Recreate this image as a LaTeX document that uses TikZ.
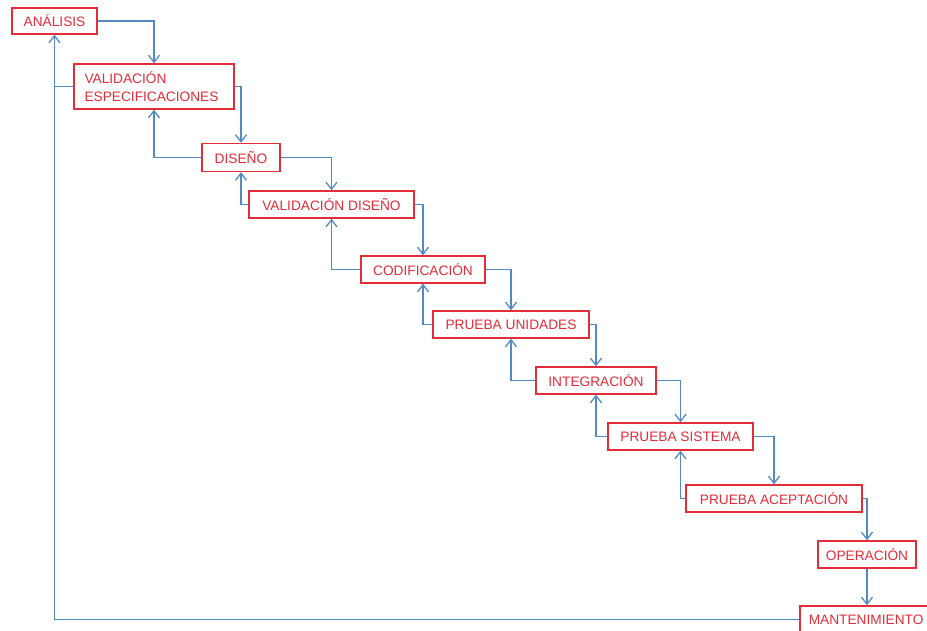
\documentclass[tikz,border=0pt]{standalone}
\usepackage{fontspec}
\setmainfont{Liberation Sans}
\usetikzlibrary{arrows.meta}
\definecolor{boxred}{RGB}{226,45,58}
\definecolor{linkblue}{RGB}{84,138,196}
\tikzset{
  box/.style={draw=boxred, text=boxred, line width=1.5pt, rectangle, inner sep=0pt,
    minimum height=27pt, font=\fontsize{13.7}{16}\selectfont},
  link/.style={draw=linkblue, line width=1.4pt},
  arr/.style={link, -{Straight Barb[length=7pt,width=11pt,line width=1.3pt]}}
}
\begin{document}
\begin{tikzpicture}[x=1pt,y=-1pt]
\useasboundingbox (0,0) rectangle (927,631);
\clip (0,0) rectangle (927,631);
\fill[white] (0,0) rectangle (927,631);
\node[box, minimum width=85pt, minimum height=26pt] (ana) at (54.5,21) {ANÁLISIS};
\node[box, minimum width=160pt, minimum height=45pt, align=left, text width=139pt, font=\fontsize{13.7}{17.5}\selectfont] (ve) at (154,86.5) {VALIDACIÓN\\ESPECIFICACIONES};
\node[box, minimum width=78pt, minimum height=28pt] (dis) at (241,157.5) {DISEÑO};
\node[box, minimum width=165pt] (vd) at (331.5,204.5) {VALIDACIÓN DISEÑO};
\node[box, minimum width=124pt] (cod) at (423,269.5) {CODIFICACIÓN};
\node[box, minimum width=156pt] (pu) at (511,324.5) {PRUEBA UNIDADES};
\node[box, minimum width=120pt] (int) at (596,380.5) {INTEGRACIÓN};
\node[box, minimum width=145pt] (ps) at (680.5,436.5) {PRUEBA SISTEMA};
\node[box, minimum width=176pt] (pa) at (774,498.5) {PRUEBA ACEPTACIÓN};
\node[box, minimum width=98pt] (op) at (867,554.5) {OPERACIÓN};
\node[box, minimum width=138pt, text width=138pt, align=left, anchor=west] (mant) at (799,619.5) {\hspace*{9pt}MANTENIMIENTO};
% forward
\draw[arr] (ana.east) -| (ve.north);
\draw[arr] (ve.east) -| (dis.north);
\draw[arr] (dis.east) -| (vd.north);
\draw[arr] (vd.east) -| (cod.north);
\draw[arr] (cod.east) -| (pu.north);
\draw[arr] (pu.east) -| (int.north);
\draw[arr] (int.east) -| (ps.north);
\draw[arr] (ps.east) -| (pa.north);
\draw[arr] (pa.east) -| (op.north);
\draw[arr] (op.south) -- (op.south |- mant.north);
% backward
\draw[arr] (dis.west) -| (ve.south);
\draw[arr] (vd.west) -| (dis.south);
\draw[arr] (cod.west) -| (vd.south);
\draw[arr] (pu.west) -| (cod.south);
\draw[arr] (int.west) -| (pu.south);
\draw[arr] (ps.west) -| (int.south);
\draw[arr] (pa.west) -| (ps.south);
\draw[arr] (mant.west) -| (ana.south);
\draw[link] (ve.west) -- (ve.west -| ana.south);
\end{tikzpicture}
\end{document}
